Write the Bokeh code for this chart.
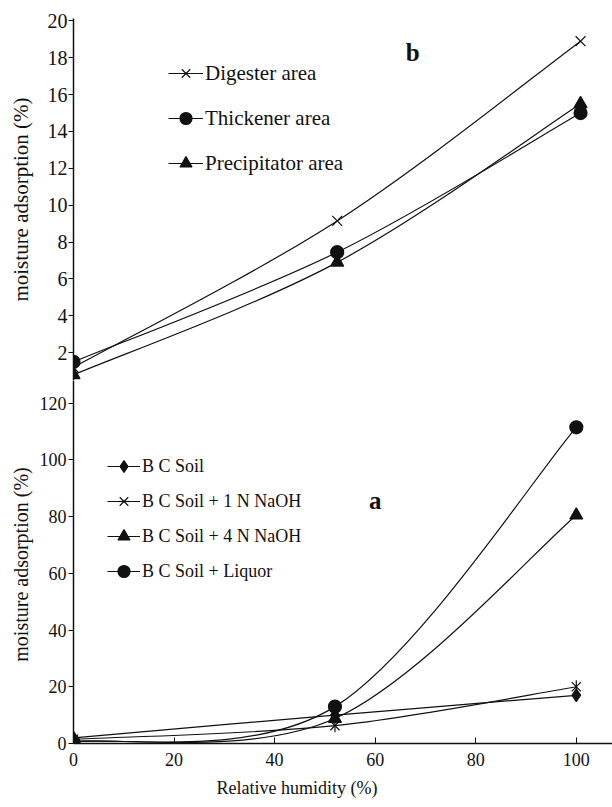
import numpy as np
from bokeh.plotting import figure
from bokeh.models import (Range1d, Legend, LegendItem, Label, ColumnDataSource,
                          Title, FixedTicker)
from bokeh.layouts import column
from bokeh.embed import file_html
from bokeh.resources import INLINE

# ---------------- data ----------------
rh = [0, 52, 100]

# panel b
digester = [1.2, 9.15, 18.9]
thickener = [1.5, 7.45, 15.0]
precipitator = [0.8, 6.9, 15.5]

# panel a
bc_soil = [2.0, 10.0, 17.0]
bc_1n = [1.5, 6.3, 20.0]
bc_4n = [0.8, 8.8, 80.5]
bc_liquor = [0.5, 13.0, 111.5]

top_ticks = [2, 4, 6, 8, 10, 12, 14, 16, 18, 20]
bottom_ticks = [0, 20, 40, 60, 80, 100, 120]
x_ticks = [0, 20, 40, 60, 80, 100]

FONT = "Liberation Serif"
INK = "#111111"


def smooth_segments(xs, ys):
    """Excel-like smoothing: cubic Bezier control points from neighbours."""
    P = list(zip(xs, ys))
    ext = [P[0]] + P + [P[-1]]
    d = dict(x0=[], y0=[], x1=[], y1=[], cx0=[], cy0=[], cx1=[], cy1=[])
    for i in range(len(P) - 1):
        pm, p0, p1, p2 = ext[i], ext[i + 1], ext[i + 2], ext[i + 3]
        d["x0"].append(p0[0]); d["y0"].append(p0[1])
        d["x1"].append(p1[0]); d["y1"].append(p1[1])
        d["cx0"].append(p0[0] + (p1[0] - pm[0]) / 6.0)
        d["cy0"].append(p0[1] + (p1[1] - pm[1]) / 6.0)
        d["cx1"].append(p1[0] - (p2[0] - p0[0]) / 6.0)
        d["cy1"].append(p1[1] - (p2[1] - p0[1]) / 6.0)
    return ColumnDataSource(d)


def style_axes(p, tick_size):
    for ax in p.yaxis:
        ax.axis_line_color = INK
        ax.axis_line_width = 1.5
        ax.major_tick_line_color = INK
        ax.major_tick_out = 5
        ax.major_tick_in = 0
        ax.minor_tick_line_color = None
        ax.major_label_text_font = FONT
        ax.major_label_text_font_size = tick_size
        ax.major_label_text_color = INK
        ax.axis_label_text_font = FONT
        ax.axis_label_text_font_style = "normal"
        ax.axis_label_text_color = INK
    p.xgrid.visible = False
    p.ygrid.visible = False
    p.outline_line_color = None
    p.background_fill_color = "white"
    p.border_fill_color = "white"


W = 612

# ---------------- top panel (b) ----------------
top = figure(width=W, height=380, output_backend="svg", toolbar_location=None,
             x_range=Range1d(0, 106.3), y_range=Range1d(0.49, 20.13),
             x_axis_location=None, min_border_left=73, min_border_right=0,
             min_border_top=18, min_border_bottom=0)
style_axes(top, "20px")
top.yaxis.ticker = FixedTicker(ticks=top_ticks)
top.yaxis.major_label_standoff = 1
top.yaxis.axis_label = "moisture adsorption (%)"
top.yaxis.axis_label_text_font_size = "21px"
top.yaxis.axis_label_standoff = 12

items_top = []
for name, ys, marker, size in [("Digester area", digester, "x", 14),
                               ("Thickener area", thickener, "circle", 13),
                               ("Precipitator area", precipitator, "triangle", 13)]:
    src = smooth_segments(rh, ys)
    br = top.bezier(x0="x0", y0="y0", x1="x1", y1="y1", cx0="cx0", cy0="cy0",
                    cx1="cx1", cy1="cy1", source=src, line_color=INK, line_width=1.2)
    sr = top.scatter(rh, ys, marker=marker, size=size, line_color=INK,
                     fill_color=INK, line_width=1.2)
    items_top.append(LegendItem(label=name, renderers=[br, sr]))

leg_top = Legend(items=items_top, location=(95, 202), orientation="vertical",
                 glyph_width=35, glyph_height=30, label_height=30, spacing=15,
                 padding=0, margin=0, label_standoff=2,
                 label_text_font=FONT, label_text_font_size="21px",
                 label_text_color=INK, border_line_color=None,
                 background_fill_alpha=0)
top.add_layout(leg_top)

top.add_layout(Label(x=66.9, y=18.26, text="b", text_font=FONT,
                     text_font_style="bold", text_font_size="25px",
                     text_align="center", text_baseline="middle",
                     text_color=INK))

# ---------------- bottom panel (a) ----------------
bot = figure(width=W, height=427, output_backend="svg", toolbar_location=None,
             x_range=Range1d(0, 107.2), y_range=Range1d(0, 128.0),
             min_border_left=70, min_border_right=0,
             min_border_top=0, min_border_bottom=64)
style_axes(bot, "18px")
bot.yaxis.ticker = FixedTicker(ticks=bottom_ticks)
bot.yaxis.major_label_standoff = 2
bot.yaxis.axis_label = "moisture adsorption  (%)"
bot.yaxis.axis_label_text_font_size = "20px"
bot.yaxis.axis_label_standoff = 5

xa = bot.xaxis[0]
xa.ticker = FixedTicker(ticks=x_ticks)
xa.axis_line_color = INK
xa.axis_line_width = 1.5
xa.major_tick_line_color = INK
xa.major_tick_in = 6
xa.major_tick_out = 0
xa.minor_tick_line_color = None
xa.major_label_text_font = FONT
xa.major_label_text_font_size = "18px"
xa.major_label_text_color = INK
xa.major_label_standoff = 9

bot.add_layout(Title(text="Relative humidity (%)", align="left", offset=143,
                     standoff=15, text_font=FONT, text_font_size="18px",
                     text_font_style="normal", text_color=INK), "below")

items_bot = []
specs = [("B C Soil", bc_soil, ["diamond"], 13),
         ("B C Soil + 1 N NaOH", bc_1n, ["x", "vdash"], 13),
         ("B C Soil + 4 N NaOH", bc_4n, ["triangle"], 13),
         ("B C Soil + Liquor", bc_liquor, ["circle"], 13)]
for name, ys, markers, size in specs:
    src = smooth_segments(rh, ys)
    br = bot.bezier(x0="x0", y0="y0", x1="x1", y1="y1", cx0="cx0", cy0="cy0",
                    cx1="cx1", cy1="cy1", source=src, line_color=INK, line_width=1.2)
    rends = [br]
    for m in markers:
        if m == "vdash":
            sr = bot.scatter(rh, ys, marker="dash", angle=np.pi / 2, size=size,
                             line_color=INK, line_width=1.2)
        else:
            sr = bot.scatter(rh, ys, marker=m, size=size, line_color=INK,
                             fill_color=INK, line_width=1.2)
        rends.append(sr)
    items_bot.append(LegendItem(label=name, renderers=rends))

leg_bot = Legend(items=items_bot, location=(34, 157), orientation="vertical",
                 glyph_width=33, glyph_height=30, label_height=30, spacing=5,
                 padding=0, margin=0, label_standoff=2,
                 label_text_font=FONT, label_text_font_size="18px",
                 label_text_color=INK, border_line_color=None,
                 background_fill_alpha=0)
bot.add_layout(leg_bot)

bot.add_layout(Label(x=60.0, y=85.7, text="a", text_font=FONT,
                     text_font_style="bold", text_font_size="25px",
                     text_align="center", text_baseline="middle",
                     text_color=INK))

layout = column(top, bot, spacing=0)

open("out.html", "w").write(file_html(layout, INLINE))
